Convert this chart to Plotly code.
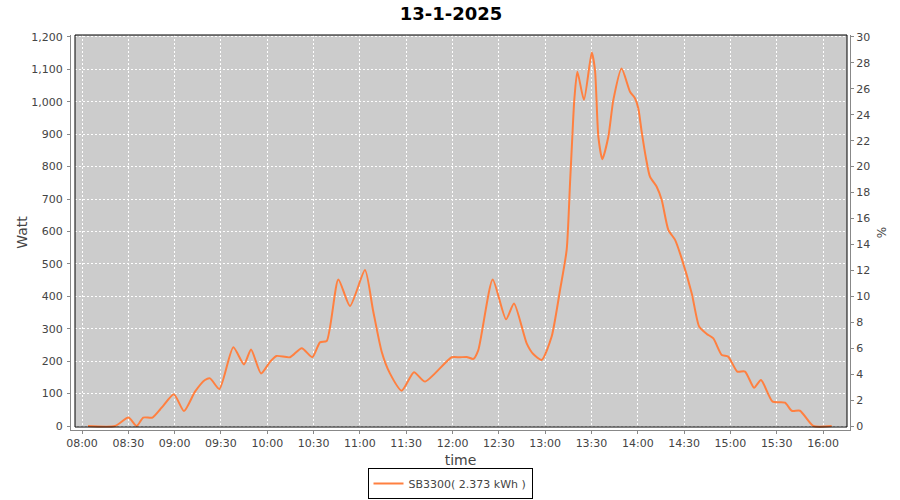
import plotly.graph_objects as go

day = "2025-01-13 "
times = ["08:03:52", "08:21:20", "08:30:03", "08:35:25", "08:39:40", "08:45:38", "08:50:35", "08:52:34",
         "08:59:31", "09:06:04", "09:13:12", "09:19:39", "09:22:55", "09:28:58", "09:38:00", "09:44:56",
         "09:49:30", "09:55:57", "10:01:48", "10:05:58", "10:14:42", "10:22:20", "10:29:11", "10:34:08",
         "10:38:30", "10:46:02", "10:53:35", "11:03:18", "11:08:28", "11:14:07", "11:19:22", "11:27:06",
         "11:35:02", "11:42:11", "11:59:26", "12:04:53", "12:09:10", "12:13:31", "12:16:42", "12:26:01",
         "12:34:39", "12:39:49", "12:48:02", "12:52:18", "12:57:46", "13:04:13", "13:09:40", "13:13:56",
         "13:16:07", "13:17:36", "13:18:53", "13:20:52", "13:25:08", "13:30:11", "13:32:17", "13:34:28",
         "13:37:02", "13:40:55", "13:44:11", "13:49:32", "13:54:59", "13:58:10", "14:00:20", "14:02:31",
         "14:05:19", "14:07:53", "14:12:15", "14:15:31", "14:19:47", "14:24:09", "14:28:25", "14:34:58",
         "14:39:49", "14:44:41", "14:48:57", "14:54:24", "14:58:34", "15:04:25", "15:09:29", "15:15:20",
         "15:19:48", "15:27:20", "15:35:22", "15:39:44", "15:45:05", "15:53:43", "16:05:37"]
watts = [0, 0, 26, 0, 26, 26, 51, 62,
         98, 46, 106, 142, 147, 114, 243, 190,
         236, 162, 198, 216, 212, 240, 212, 258,
         262, 452, 370, 481, 358, 229, 163, 109,
         166, 137, 212, 212, 213, 207, 234, 452,
         329, 378, 255, 222, 204, 276, 420, 543,
         749, 892, 1006, 1093, 1006, 1152, 1098, 892,
         823, 892, 1006, 1103, 1031, 1011, 980, 908,
         826, 769, 738, 697, 605, 574, 517, 409,
         306, 284, 270, 219, 214, 168, 168, 118,
         142, 75, 72, 47, 47, 0, 0]

series_name = "SB3300( 2.373 kWh )"
title_text = "13-1-2025"
x_ticks = ["08:00", "08:30", "09:00", "09:30", "10:00", "10:30", "11:00", "11:30", "12:00",
           "12:30", "13:00", "13:30", "14:00", "14:30", "15:00", "15:30", "16:00"]
left_ticks = list(range(0, 1201, 100))
right_ticks = list(range(0, 31, 2))

xs = [day + t for t in times]
tick_vals = [day + t for t in x_ticks]

FONT = "DejaVu Sans"
TXT = "#444444"
AX = "#888888"

W, H = 900, 500
L, R, T, B = 71, 850, 35, 430   # axis-line box in page px
PW, PH = R - L, B - T

fig = go.Figure()
fig.add_trace(go.Scatter(x=xs, y=watts, mode="lines", name=series_name,
                         line=dict(color="#FF8040", width=2, shape="spline", smoothing=0.6)))
fig.add_trace(go.Scatter(x=[xs[0]], y=[None], yaxis="y2", mode="lines", showlegend=False,
                         hoverinfo="skip"))

gx0 = (75 - L) / PW
gx1 = (847 - L) / PW
gy0 = (B - 427) / PH

fig.update_layout(
    width=W, height=H,
    margin=dict(l=L, r=W - R, t=T, b=H - B, autoexpand=False),
    paper_bgcolor="white", plot_bgcolor="white",
    font=dict(family=FONT, size=11, color=TXT),
    title=dict(text=title_text, x=451 / W, xanchor="center", y=1 - 13.5 / H, yanchor="middle",
               font=dict(family=FONT, size=18, color="black", weight="bold")),
    xaxis=dict(type="date", range=[day + "07:52:52", day + "16:17:28"],
               tickvals=tick_vals, ticktext=x_ticks,
               showgrid=True, gridcolor="white", griddash="2px,2px", gridwidth=1,
               showline=True, linecolor=AX, linewidth=1,
               ticks="outside", ticklen=3, tickcolor=AX,
               tickfont=dict(size=11, color=TXT), zeroline=False,
               title=dict(text="time", font=dict(size=14, color=TXT), standoff=7)),
    yaxis=dict(range=[-12.34, 1206], tickvals=left_ticks,
               ticktext=[f"{v:,}" for v in left_ticks],
               showgrid=True, gridcolor="white", griddash="2px,2px", gridwidth=1,
               showline=True, linecolor=AX, linewidth=1,
               ticks="outside", ticklen=3, tickcolor=AX, zeroline=False,
               ticklabelstandoff=2,
               tickfont=dict(size=11, color=TXT),
               title=dict(text="Watt", font=dict(size=14, color=TXT), standoff=0)),
    yaxis2=dict(range=[-12.34 / 40, 1206 / 40], tickvals=right_ticks, overlaying="y", side="right",
                showgrid=False, showline=True, linecolor=AX, linewidth=1, zeroline=False,
                ticks="outside", ticklen=3, tickcolor=AX,
                tickfont=dict(size=11, color=TXT),
                title=dict(text="%", font=dict(size=12, color=TXT), standoff=8)),
    legend=dict(orientation="h", xref="container", yref="container", x=450 / W, xanchor="center",
                y=1 - 499 / H, yanchor="bottom", bordercolor="black", borderwidth=1,
                bgcolor="white", font=dict(size=11, color=TXT), itemwidth=30,
                tracegroupgap=0, valign="middle"),
    shapes=[
        dict(type="rect", xref="paper", yref="paper", x0=gx0, x1=gx1, y0=gy0, y1=1,
             fillcolor="#CCCCCC", line=dict(width=0), layer="below"),
        dict(type="rect", xref="paper", yref="paper", x0=gx0, x1=gx1, y0=gy0, y1=1,
             fillcolor="rgba(0,0,0,0)", line=dict(color="black", width=1), layer="above"),
    ],
)

fig.write_html("out.html", config={"displayModeBar": False},
               post_script="document.body.style.margin='0';document.body.style.padding='0';")
